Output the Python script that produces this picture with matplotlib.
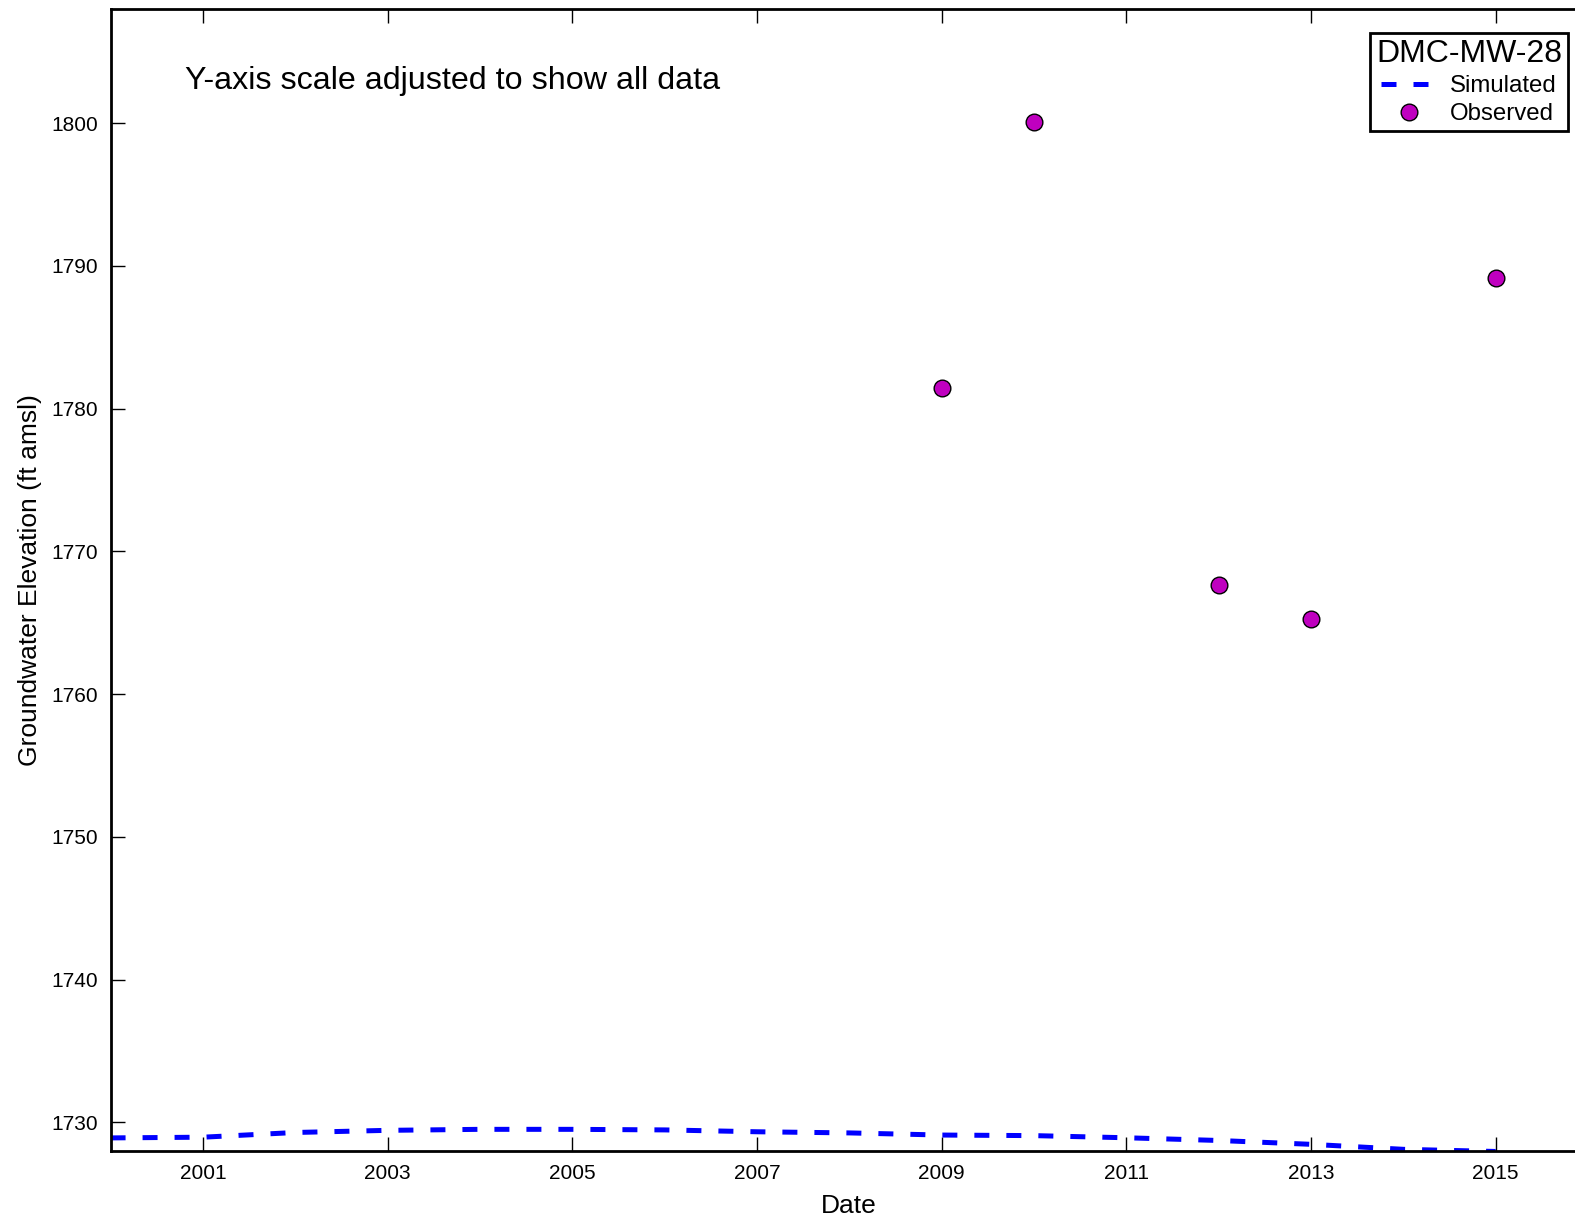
import matplotlib
matplotlib.use('Agg')
import matplotlib.pyplot as plt
import matplotlib.dates as mdates
import numpy as np
import datetime as dt

plt.rcParams['font.family'] = ['Liberation Sans', 'DejaVu Sans']

# Simulated heads, read off at Jan 1 of each year
sim_years = list(range(2000, 2016))
sim_head = [1728.92, 1728.97, 1729.30, 1729.45, 1729.52, 1729.52, 1729.48, 1729.35,
            1729.27, 1729.12, 1729.08, 1728.93, 1728.74, 1728.47, 1728.12, 1727.97]

# Observed heads
obs_years = [2009, 2010, 2012, 2013, 2015]
obs_head = [1781.45, 1800.05, 1767.65, 1765.3, 1789.15]

well = 'DMC-MW-28'

sim_dates = [dt.datetime(y, 1, 1) for y in sim_years]
obs_dates = [dt.datetime(y, 1, 1) for y in obs_years]

fig = plt.figure(figsize=(15.75, 12.17), dpi=100)
ax = fig.add_axes([0.0702, 0.0542, 0.938, 0.9384])

ax.plot(sim_dates, sim_head, color='b', lw=3.6, ls='--', dashes=(3, 3.4),
        label='Simulated')
ax.plot(obs_dates, obs_head, 'o', color='m', mec='k', mew=1.0, ms=12,
        label='Observed')

ax.set_xlim(dt.datetime(2000, 1, 1), dt.datetime(2016, 1, 1))
ax.set_ylim(1728, 1808)
ax.set_yticks(np.arange(1730, 1801, 10))
ax.set_xticks([dt.datetime(y, 1, 1) for y in range(2001, 2016, 2)])
ax.xaxis.set_major_formatter(mdates.DateFormatter('%Y'))

ax.tick_params(direction='in', length=10, width=1, labelsize=15, pad=9,
               top=True, right=False)
for s in ax.spines.values():
    s.set_linewidth(2)

ax.set_xlabel('Date', fontsize=19, labelpad=8)
ax.set_ylabel('Groundwater Elevation (ft amsl)', fontsize=19, labelpad=7)

fig.text(185 / 1575, 1 - 89 / 1217, 'Y-axis scale adjusted to show all data',
         fontsize=23.2, va='baseline', ha='left')

leg = ax.legend(loc='upper right', bbox_to_anchor=(1568 / 1575, 1 - 33 / 1217),
                bbox_transform=fig.transFigure, fontsize=17.3, title=well,
                title_fontsize=23, fancybox=False, framealpha=1, borderaxespad=0,
                handlelength=2.3, numpoints=1, borderpad=0.25, labelspacing=0.25,
                handletextpad=0.55)
leg.get_frame().set_edgecolor('k')
leg.get_frame().set_linewidth(2)

fig.savefig('out.png', dpi=100)
